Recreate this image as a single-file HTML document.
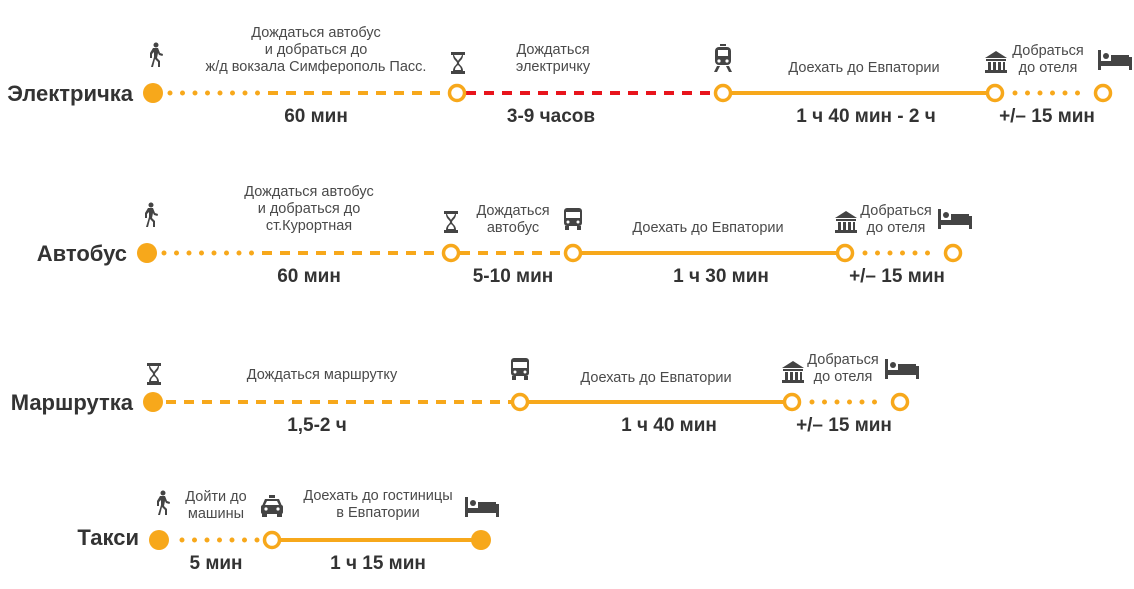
<!DOCTYPE html>
<html><head><meta charset="utf-8"><style>
html,body{margin:0;padding:0;background:#fff;}
svg{display:block;}
.t{font-family:"Liberation Sans",sans-serif;font-size:14.5px;fill:#4a4a4a;text-anchor:middle;}
.b{font-family:"Liberation Sans",sans-serif;font-size:19px;fill:#333;text-anchor:middle;font-weight:bold;}
.h{font-family:"Liberation Sans",sans-serif;font-size:22px;fill:#333;font-weight:bold;text-anchor:end;}
</style></head><body>
<svg width="1134" height="589" viewBox="0 0 1134 589" xmlns="http://www.w3.org/2000/svg">
<defs>
<g id="walk" fill="#444"><circle cx="3" cy="-11" r="2.5"/><path d="M0-8 L5-8 L7-3 L10-2 L9.5 0 L6-1 L5-3 L4 2 L7 5 L7 11 L5 11 L5 6 L2 3 L0 11 L-2 11 L1 1 L1-4 L-1-2 L-1 2 L-3 2 L-3-3Z"/></g>
<g id="glass" fill="#444"><path d="M-7-11 H7 V-8 H5 C5-3 1-2 1 0 C1 2 5 3 5 8 H7 V11 H-7 V8 H-5 C-5 3 -1 2 -1 0 C-1-2 -5-3 -5-8 H-7Z"/><path d="M-4-8 H4 C3-5 1-4 0-2 C-1-4-3-5-4-8Z" fill="#fff"/><path d="M-3 7 C-3 4 -1 3 0 2 C1 3 3 4 3 7Z" fill="#fff"/></g>
<g id="train" fill="#444"><rect x="-8" y="-12" width="16" height="18" rx="4"/><rect x="-5" y="-9" width="10" height="6" fill="#fff"/><circle cx="-4" cy="2" r="1.6" fill="#fff"/><circle cx="4" cy="2" r="1.6" fill="#fff"/><path d="M-6 7 L-9 13 L-6 13 L-3 7Z M6 7 L9 13 L6 13 L3 7Z"/><rect x="-3" y="-15" width="6" height="2"/></g>
<g id="bus" fill="#444"><rect x="-9" y="-11" width="18" height="18" rx="3"/><rect x="-7" y="-7" width="14" height="6" fill="#fff"/><circle cx="-5" cy="3" r="1.5" fill="#fff"/><circle cx="5" cy="3" r="1.5" fill="#fff"/><rect x="-8" y="7" width="4" height="4"/><rect x="4" y="7" width="4" height="4"/></g>
<g id="taxi" fill="#444"><rect x="-3" y="-11" width="6" height="3"/><path d="M-7-7 H7 L10 0 H-10Z"/><rect x="-11" y="-1" width="22" height="9" rx="2"/><path d="M-5-5 H5 L7-1 H-7Z" fill="#fff"/><circle cx="-6" cy="3" r="1.6" fill="#fff"/><circle cx="6" cy="3" r="1.6" fill="#fff"/><rect x="-10" y="7" width="5" height="4"/><rect x="5" y="7" width="5" height="4"/></g>
<g id="bank" fill="#444"><path d="M-11-4 L0-11 L11-4Z"/><rect x="-10" y="-3" width="20" height="2"/><rect x="-8" y="0" width="3" height="8"/><rect x="-3" y="0" width="3" height="8"/><rect x="2" y="0" width="3" height="8"/><rect x="7" y="0" width="2" height="8"/><rect x="-11" y="8" width="22" height="3"/></g>
<g id="bed" fill="#444"><rect x="-17" y="-10" width="3" height="20"/><rect x="14" y="-3" width="3" height="13"/><rect x="-17" y="3" width="34" height="3"/><circle cx="-9" cy="-4" r="3"/><rect x="-4" y="-5" width="18" height="7"/><rect x="-14" y="1" width="28" height="2"/></g>
</defs>
<g stroke-linecap="round" fill="none">
<line x1="170" y1="93" x2="258" y2="93" stroke="#f7a81b" stroke-width="5" stroke-dasharray="0 12.5"/>
<line x1="268" y1="93" x2="448" y2="93" stroke="#f7a81b" stroke-width="4" stroke-dasharray="10 8" stroke-linecap="butt"/>
<line x1="466" y1="93" x2="714" y2="93" stroke="#e8141c" stroke-width="4" stroke-dasharray="10 8" stroke-linecap="butt"/>
<line x1="731" y1="93" x2="986" y2="93" stroke="#f7a81b" stroke-width="4"/>
<line x1="1015" y1="93" x2="1090" y2="93" stroke="#f7a81b" stroke-width="5" stroke-dasharray="0 12.5"/>
<line x1="164" y1="253" x2="252" y2="253" stroke="#f7a81b" stroke-width="5" stroke-dasharray="0 12.5"/>
<line x1="262" y1="253" x2="442" y2="253" stroke="#f7a81b" stroke-width="4" stroke-dasharray="10 8" stroke-linecap="butt"/>
<line x1="460" y1="253" x2="564" y2="253" stroke="#f7a81b" stroke-width="4" stroke-dasharray="10 8" stroke-linecap="butt"/>
<line x1="581" y1="253" x2="837" y2="253" stroke="#f7a81b" stroke-width="4"/>
<line x1="865" y1="253" x2="940" y2="253" stroke="#f7a81b" stroke-width="5" stroke-dasharray="0 12.5"/>
<line x1="166" y1="402" x2="511" y2="402" stroke="#f7a81b" stroke-width="4" stroke-dasharray="10 8" stroke-linecap="butt"/>
<line x1="528" y1="402" x2="784" y2="402" stroke="#f7a81b" stroke-width="4"/>
<line x1="812" y1="402" x2="887" y2="402" stroke="#f7a81b" stroke-width="5" stroke-dasharray="0 12.5"/>
<line x1="182" y1="540" x2="260" y2="540" stroke="#f7a81b" stroke-width="5" stroke-dasharray="0 12.5"/>
<line x1="280" y1="540" x2="481" y2="540" stroke="#f7a81b" stroke-width="4"/>
</g>
<g fill="#f7a81b"><circle cx="153" cy="93" r="10"/><circle cx="147" cy="253" r="10"/><circle cx="153" cy="402" r="10"/><circle cx="159" cy="540" r="10"/><circle cx="481" cy="540" r="10"/></g>
<g fill="#fff" stroke="#f7a81b" stroke-width="3.5">
<circle cx="457" cy="93" r="7.5"/><circle cx="723" cy="93" r="7.5"/><circle cx="995" cy="93" r="7.5"/><circle cx="1103" cy="93" r="7.5"/>
<circle cx="451" cy="253" r="7.5"/><circle cx="573" cy="253" r="7.5"/><circle cx="845" cy="253" r="7.5"/><circle cx="953" cy="253" r="7.5"/>
<circle cx="520" cy="402" r="7.5"/><circle cx="792" cy="402" r="7.5"/><circle cx="900" cy="402" r="7.5"/>
<circle cx="272" cy="540" r="7.5"/>
</g>
<use href="#walk" x="153" y="56"/><use href="#glass" x="458" y="63"/><use href="#train" x="723" y="59"/><use href="#bank" x="996" y="62"/><use href="#bed" x="1115" y="60"/>
<use href="#walk" x="148" y="216"/><use href="#glass" x="451" y="222"/><use href="#bus" x="573" y="219"/><use href="#bank" x="846" y="222"/><use href="#bed" x="955" y="219"/>
<use href="#glass" x="154" y="374"/><use href="#bus" x="520" y="369"/><use href="#bank" x="793" y="372"/><use href="#bed" x="902" y="369"/>
<use href="#walk" x="160" y="504"/><use href="#taxi" x="272" y="506"/><use href="#bed" x="482" y="507"/>
<text class="h" x="133" y="101">Электричка</text>
<text class="h" x="127" y="261">Автобус</text>
<text class="h" x="133" y="410">Маршрутка</text>
<text class="h" x="139" y="545">Такси</text>
<text class="t" x="316" y="37">Дождаться автобус</text><text class="t" x="316" y="54">и добраться до</text><text class="t" x="316" y="71">ж/д вокзала Симферополь Пасс.</text>
<text class="t" x="553" y="54">Дождаться</text><text class="t" x="553" y="71">электричку</text>
<text class="t" x="864" y="72">Доехать до Евпатории</text>
<text class="t" x="1048" y="55">Добраться</text><text class="t" x="1048" y="72">до отеля</text>
<text class="b" x="316" y="122">60 мин</text><text class="b" x="551" y="122">3-9 часов</text><text class="b" x="866" y="122">1 ч 40 мин - 2 ч</text><text class="b" x="1047" y="122">+/– 15 мин</text>
<text class="t" x="309" y="196">Дождаться автобус</text><text class="t" x="309" y="213">и добраться до</text><text class="t" x="309" y="230">ст.Курортная</text>
<text class="t" x="513" y="215">Дождаться</text><text class="t" x="513" y="232">автобус</text>
<text class="t" x="708" y="232">Доехать до Евпатории</text>
<text class="t" x="896" y="215">Добраться</text><text class="t" x="896" y="232">до отеля</text>
<text class="b" x="309" y="282">60 мин</text><text class="b" x="513" y="282">5-10 мин</text><text class="b" x="721" y="282">1 ч 30 мин</text><text class="b" x="897" y="282">+/– 15 мин</text>
<text class="t" x="322" y="379">Дождаться маршрутку</text>
<text class="t" x="656" y="382">Доехать до Евпатории</text>
<text class="t" x="843" y="364">Добраться</text><text class="t" x="843" y="381">до отеля</text>
<text class="b" x="317" y="431">1,5-2 ч</text><text class="b" x="669" y="431">1 ч 40 мин</text><text class="b" x="844" y="431">+/– 15 мин</text>
<text class="t" x="216" y="501">Дойти до</text><text class="t" x="216" y="518">машины</text>
<text class="t" x="378" y="500">Доехать до гостиницы</text><text class="t" x="378" y="517">в Евпатории</text>
<text class="b" x="216" y="569">5 мин</text><text class="b" x="378" y="569">1 ч 15 мин</text>
</svg>
</body></html>
